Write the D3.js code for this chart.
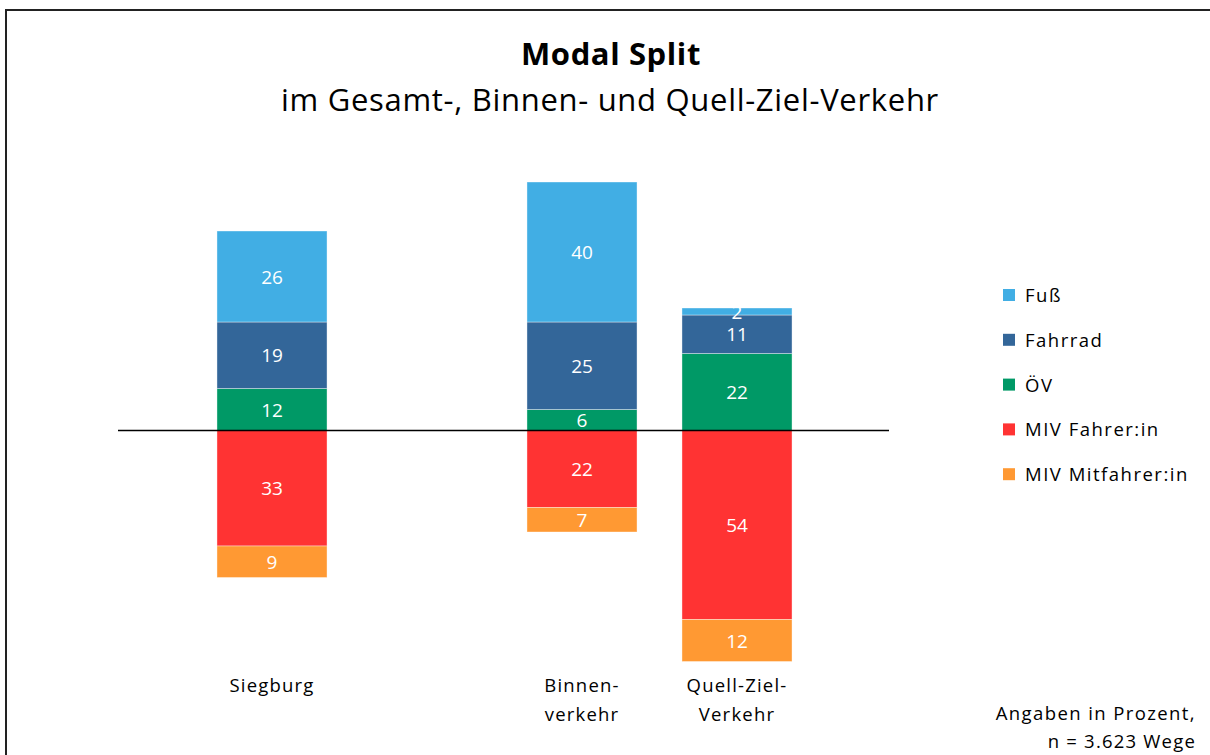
<!DOCTYPE html>
<html><head><meta charset="utf-8">
<script src="https://cdn.jsdelivr.net/npm/d3@7"></script>
<style>body{margin:0;background:#fff}svg{display:block}text{font-family:"Open Sans",Lato,sans-serif}</style>
</head><body><svg id="c" width="1210" height="755"></svg>
<script>
const categories = ["Siegburg", "", "Binnen-\nverkehr", "Quell-Ziel-\nVerkehr"];
const seriesNames = ["Fuß", "Fahrrad", "ÖV", "MIV Fahrer:in", "MIV Mitfahrer:in"];
const seriesColors = ["#41AEE4", "#336699", "#009966", "#FF3333", "#FF9933"];
const positiveSeries = [true, true, true, false, false];
const fuss = [26, null, 40, 2];
const fahrrad = [19, null, 25, 11];
const oev = [12, null, 6, 22];
const mivFahrer = [33, null, 22, 54];
const mivMitfahrer = [9, null, 7, 12];
const values = [fuss, fahrrad, oev, mivFahrer, mivMitfahrer];

const svg = d3.select("#c");
svg.append("rect").attr("x",6).attr("y",10).attr("width",1220).attr("height",760)
  .attr("fill","#fff").attr("stroke","#222").attr("stroke-width",2);

svg.append("text").attr("x",611).attr("y",65).attr("text-anchor","middle")
  .attr("font-size",31).attr("font-weight","bold").attr("letter-spacing",0.6).attr("fill","#000").text("Modal Split");
svg.append("text").attr("x",610).attr("y",111).attr("text-anchor","middle")
  .attr("font-size",31).attr("letter-spacing",0.7).attr("fill","#000").text("im Gesamt-, Binnen- und Quell-Ziel-Verkehr");

const x = d3.scaleBand().domain(categories).range([194.5, 814.5]).paddingInner(0.29).paddingOuter(0.145);
const y = d3.scaleLinear().domain([-70, 80]).range([675.5, 150.5]);

const segs = [];
categories.forEach((c, ci) => {
  if (fuss[ci] == null) return;
  let pos = 0, neg = 0;
  [2, 1, 0, 3, 4].forEach(si => {
    const v = values[si][ci];
    let y0, y1;
    if (positiveSeries[si]) { y0 = pos; y1 = pos + v; pos = y1; }
    else { y0 = neg; y1 = neg - v; neg = y1; }
    segs.push({c, si, v, top: y(Math.max(y0, y1)), bot: y(Math.min(y0, y1))});
  });
});

const g = svg.append("g");
g.selectAll("rect").data(segs).join("rect")
  .attr("x", s => x(s.c)).attr("y", s => s.top).attr("width", x.bandwidth())
  .attr("height", s => s.bot - s.top).attr("fill", s => seriesColors[s.si])
  .attr("stroke", "rgba(255,255,255,0.5)").attr("stroke-width", 0.75);
g.selectAll("text").data(segs).join("text")
  .attr("x", s => x(s.c) + x.bandwidth()/2).attr("y", s => (s.top + s.bot)/2 + 7)
  .attr("text-anchor","middle").attr("font-size",19).attr("fill","#fff").text(s => s.v);

svg.append("line").attr("x1",118).attr("x2",889).attr("y1",y(0)).attr("y2",y(0))
  .attr("stroke","#000").attr("stroke-width",1.5);

categories.forEach(c => {
  if (!c) return;
  const lines = c.split("\n");
  const t = svg.append("text").attr("x", x(c) + x.bandwidth()/2).attr("y", 692)
    .attr("text-anchor","middle").attr("font-size",18.5).attr("letter-spacing",1.2).attr("fill","#000");
  lines.forEach((l, i) => t.append("tspan").attr("x", x(c) + x.bandwidth()/2).attr("dy", i ? 29 : 0).text(l));
});

const leg = svg.append("g");
seriesNames.forEach((n, i) => {
  const yy = 295 + i * 44.8;
  leg.append("rect").attr("x",1003).attr("y",yy-6).attr("width",12).attr("height",12).attr("fill",seriesColors[i]);
  leg.append("text").attr("x",1025).attr("y",yy+7).attr("font-size",18.5).attr("letter-spacing",1.5).attr("fill","#000").text(n);
});

svg.append("text").attr("x",1196).attr("y",720).attr("text-anchor","end").attr("font-size",18.5).attr("letter-spacing",1.4).attr("fill","#000").text("Angaben in Prozent,");
svg.append("text").attr("x",1196).attr("y",748).attr("text-anchor","end").attr("font-size",18.5).attr("letter-spacing",1.2).attr("fill","#000").text("n = 3.623 Wege");
</script></body></html>
